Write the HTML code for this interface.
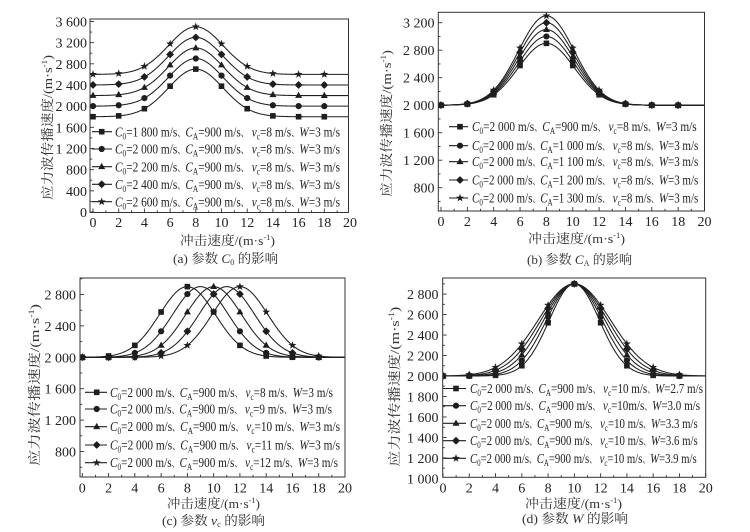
<!DOCTYPE html>
<html>
<head>
<meta charset="utf-8">
<style>
html,body{margin:0;padding:0;background:#fff;}
svg{display:block;}
.tk{font-family:"Liberation Serif","Noto Serif CJK SC",serif;font-size:14px;fill:#222;}
.lg{font-family:"Liberation Serif","Noto Serif CJK SC",serif;font-size:14px;fill:#222;}
.ti{font-family:"Liberation Serif","Noto Serif CJK SC",serif;font-size:13px;fill:#333;}
.dn{font-size:10px;}
</style>
</head>
<body>
<svg id="s" width="750" height="532" viewBox="0 0 750 532" xmlns="http://www.w3.org/2000/svg">
<rect width="750" height="532" fill="#fff"/>
<defs>
<clipPath id="ca"><rect x="90" y="19" width="258.5" height="193.5"/></clipPath>
<clipPath id="cb"><rect x="438.3" y="12.3" width="266.2" height="198.7"/></clipPath>
<clipPath id="cc"><rect x="80" y="278" width="265" height="199"/></clipPath>
<clipPath id="cd"><rect x="442.7" y="278" width="263" height="199.3"/></clipPath>
</defs>
<g id="gfx"></g>

<!-- Panel (a) tick labels -->
<g class="tk" text-anchor="end">
<text x="87" y="217">0</text><text x="87" y="195.8">400</text><text x="87" y="174.7">800</text>
<text x="87" y="153.5">1 200</text><text x="87" y="132.3">1 600</text><text x="87" y="111.2">2 000</text>
<text x="87" y="90">2 400</text><text x="87" y="68.8">2 800</text><text x="87" y="47.6">3 200</text><text x="87" y="26.5">3 600</text>
</g>
<g class="tk" text-anchor="middle">
<text x="93" y="227">0</text><text x="118.7" y="227">2</text><text x="144.4" y="227">4</text><text x="170.1" y="227">6</text>
<text x="195.8" y="227">8</text><text x="221.5" y="227">10</text><text x="247.2" y="227">12</text><text x="272.9" y="227">14</text>
<text x="298.6" y="227">16</text><text x="324.3" y="227">18</text><text x="350" y="227">20</text>
</g>
<!-- Panel (b) tick labels -->
<g class="tk" text-anchor="end">
<text x="434.5" y="192.7">800</text><text x="434.5" y="165.2">1 200</text><text x="434.5" y="137.7">1 600</text>
<text x="434.5" y="110.2">2 000</text><text x="434.5" y="82.7">2 400</text><text x="434.5" y="55.2">2 800</text><text x="434.5" y="27.7">3 200</text>
</g>
<g class="tk" text-anchor="middle">
<text x="441" y="226">0</text><text x="467.4" y="226">2</text><text x="493.7" y="226">4</text><text x="520.1" y="226">6</text>
<text x="546.4" y="226">8</text><text x="572.8" y="226">10</text><text x="599.1" y="226">12</text><text x="625.5" y="226">14</text>
<text x="651.8" y="226">16</text><text x="678.2" y="226">18</text><text x="704.5" y="226">20</text>
</g>
<!-- Panel (c) tick labels -->
<g class="tk" text-anchor="end">
<text x="76" y="456.5">800</text><text x="76" y="425.1">1 200</text><text x="76" y="393.7">1 600</text>
<text x="76" y="362.3">2 000</text><text x="76" y="330.9">2 400</text><text x="76" y="299.5">2 800</text>
</g>
<g class="tk" text-anchor="middle">
<text x="82.3" y="492.5">0</text><text x="108.6" y="492.5">2</text><text x="134.8" y="492.5">4</text><text x="161.1" y="492.5">6</text>
<text x="187.4" y="492.5">8</text><text x="213.7" y="492.5">10</text><text x="239.9" y="492.5">12</text><text x="266.2" y="492.5">14</text>
<text x="292.5" y="492.5">16</text><text x="318.7" y="492.5">18</text><text x="345" y="492.5">20</text>
</g>
<!-- Panel (d) tick labels -->
<g class="tk" text-anchor="end">
<text x="438.5" y="483.4">1 000</text><text x="438.5" y="462.9">1 200</text><text x="438.5" y="442.4">1 400</text>
<text x="438.5" y="422">1 600</text><text x="438.5" y="401.5">1 800</text><text x="438.5" y="381">2 000</text>
<text x="438.5" y="360.5">2 200</text><text x="438.5" y="340">2 400</text><text x="438.5" y="319.6">2 600</text><text x="438.5" y="299.1">2 800</text>
</g>
<g class="tk" text-anchor="middle">
<text x="443" y="492.5">0</text><text x="469.3" y="492.5">2</text><text x="495.5" y="492.5">4</text><text x="521.8" y="492.5">6</text>
<text x="548.1" y="492.5">8</text><text x="574.4" y="492.5">10</text><text x="600.6" y="492.5">12</text><text x="626.9" y="492.5">14</text>
<text x="653.2" y="492.5">16</text><text x="679.4" y="492.5">18</text><text x="705.7" y="492.5">20</text>
</g>

<!-- Axis titles -->
<g class="ti">
<text transform="translate(52,127.5) rotate(-90)" text-anchor="middle" textLength="145" lengthAdjust="spacingAndGlyphs">应力波传播速度/(m·s<tspan font-size="8" dy="-5">-1</tspan><tspan dy="5">)</tspan></text>
<text transform="translate(391,123.5) rotate(-90)" text-anchor="middle" textLength="147" lengthAdjust="spacingAndGlyphs">应力波传播速度/(m·s<tspan font-size="8" dy="-5">-1</tspan><tspan dy="5">)</tspan></text>
<text transform="translate(39,385) rotate(-90)" text-anchor="middle" textLength="162" lengthAdjust="spacingAndGlyphs">应力波传播速度/(m·s<tspan font-size="8" dy="-5">-1</tspan><tspan dy="5">)</tspan></text>
<text transform="translate(399,386.7) rotate(-90)" text-anchor="middle" textLength="160" lengthAdjust="spacingAndGlyphs">应力波传播速度/(m·s<tspan font-size="8" dy="-5">-1</tspan><tspan dy="5">)</tspan></text>

<text x="227.5" y="245" text-anchor="middle" textLength="95" lengthAdjust="spacingAndGlyphs">冲击速度/(m·s<tspan font-size="8" dy="-5">-1</tspan><tspan dy="5">)</tspan></text>
<text x="576.5" y="243" text-anchor="middle" textLength="97" lengthAdjust="spacingAndGlyphs">冲击速度/(m·s<tspan font-size="8" dy="-5">-1</tspan><tspan dy="5">)</tspan></text>
<text x="213.5" y="508" text-anchor="middle" textLength="93" lengthAdjust="spacingAndGlyphs">冲击速度/(m·s<tspan font-size="8" dy="-5">-1</tspan><tspan dy="5">)</tspan></text>
<text x="573.5" y="508" text-anchor="middle" textLength="97" lengthAdjust="spacingAndGlyphs">冲击速度/(m·s<tspan font-size="8" dy="-5">-1</tspan><tspan dy="5">)</tspan></text>

<text x="225.5" y="263" text-anchor="middle" textLength="105" lengthAdjust="spacingAndGlyphs">(a) 参数 <tspan font-style="italic">C</tspan><tspan font-size="8" dy="2">0</tspan><tspan dy="-2"> 的影响</tspan></text>
<text x="579.5" y="264" text-anchor="middle" textLength="105" lengthAdjust="spacingAndGlyphs">(b) 参数 <tspan font-style="italic">C</tspan><tspan font-size="8" dy="2">A</tspan><tspan dy="-2"> 的影响</tspan></text>
<text x="213.5" y="525" text-anchor="middle" textLength="103" lengthAdjust="spacingAndGlyphs">(c) 参数 <tspan font-style="italic">v</tspan><tspan font-size="8" dy="2">c</tspan><tspan dy="-2"> 的影响</tspan></text>
<text x="575" y="523" text-anchor="middle" textLength="106" lengthAdjust="spacingAndGlyphs">(d) 参数 <tspan font-style="italic">W</tspan> 的影响</text>
</g>

<!-- Legends (a) -->
<g class="lg">
<text x="115" y="136.3" textLength="225" lengthAdjust="spacingAndGlyphs"><tspan font-style="italic">C</tspan><tspan font-size="9" dy="3">0</tspan><tspan dy="-3">=1 800 m/s<tspan class="dn">、</tspan></tspan><tspan font-style="italic">C</tspan><tspan font-size="9" dy="3">A</tspan><tspan dy="-3">=900 m/s<tspan class="dn">、</tspan> </tspan><tspan font-style="italic">v</tspan><tspan font-size="9" dy="3">c</tspan><tspan dy="-3">=8 m/s<tspan class="dn">、</tspan></tspan><tspan font-style="italic">W</tspan>=3 m/s</text>
<text x="115" y="153.6" textLength="225" lengthAdjust="spacingAndGlyphs"><tspan font-style="italic">C</tspan><tspan font-size="9" dy="3">0</tspan><tspan dy="-3">=2 000 m/s<tspan class="dn">、</tspan></tspan><tspan font-style="italic">C</tspan><tspan font-size="9" dy="3">A</tspan><tspan dy="-3">=900 m/s<tspan class="dn">、</tspan> </tspan><tspan font-style="italic">v</tspan><tspan font-size="9" dy="3">c</tspan><tspan dy="-3">=8 m/s<tspan class="dn">、</tspan></tspan><tspan font-style="italic">W</tspan>=3 m/s</text>
<text x="115" y="171.3" textLength="225" lengthAdjust="spacingAndGlyphs"><tspan font-style="italic">C</tspan><tspan font-size="9" dy="3">0</tspan><tspan dy="-3">=2 200 m/s<tspan class="dn">、</tspan></tspan><tspan font-style="italic">C</tspan><tspan font-size="9" dy="3">A</tspan><tspan dy="-3">=900 m/s<tspan class="dn">、</tspan> </tspan><tspan font-style="italic">v</tspan><tspan font-size="9" dy="3">c</tspan><tspan dy="-3">=8 m/s<tspan class="dn">、</tspan></tspan><tspan font-style="italic">W</tspan>=3 m/s</text>
<text x="115" y="188.9" textLength="225" lengthAdjust="spacingAndGlyphs"><tspan font-style="italic">C</tspan><tspan font-size="9" dy="3">0</tspan><tspan dy="-3">=2 400 m/s<tspan class="dn">、</tspan></tspan><tspan font-style="italic">C</tspan><tspan font-size="9" dy="3">A</tspan><tspan dy="-3">=900 m/s<tspan class="dn">、</tspan> </tspan><tspan font-style="italic">v</tspan><tspan font-size="9" dy="3">c</tspan><tspan dy="-3">=8 m/s<tspan class="dn">、</tspan></tspan><tspan font-style="italic">W</tspan>=3 m/s</text>
<text x="115" y="206.3" textLength="225" lengthAdjust="spacingAndGlyphs"><tspan font-style="italic">C</tspan><tspan font-size="9" dy="3">0</tspan><tspan dy="-3">=2 600 m/s<tspan class="dn">、</tspan></tspan><tspan font-style="italic">C</tspan><tspan font-size="9" dy="3">A</tspan><tspan dy="-3">=900 m/s<tspan class="dn">、</tspan> </tspan><tspan font-style="italic">v</tspan><tspan font-size="9" dy="3">c</tspan><tspan dy="-3">=8 m/s<tspan class="dn">、</tspan></tspan><tspan font-style="italic">W</tspan>=3 m/s</text>
</g>
<!-- Legends (b) -->
<g class="lg">
<text x="472" y="131.2" textLength="224.7" lengthAdjust="spacingAndGlyphs"><tspan font-style="italic">C</tspan><tspan font-size="9" dy="3">0</tspan><tspan dy="-3">=2 000 m/s<tspan class="dn">、</tspan></tspan><tspan font-style="italic">C</tspan><tspan font-size="9" dy="3">A</tspan><tspan dy="-3">=900 m/s<tspan class="dn">、</tspan> </tspan><tspan font-style="italic">v</tspan><tspan font-size="9" dy="3">c</tspan><tspan dy="-3">=8 m/s<tspan class="dn">、</tspan></tspan><tspan font-style="italic">W</tspan>=3 m/s</text>
<text x="472" y="150.2" textLength="226.3" lengthAdjust="spacingAndGlyphs"><tspan font-style="italic">C</tspan><tspan font-size="9" dy="3">0</tspan><tspan dy="-3">=2 000 m/s<tspan class="dn">、</tspan></tspan><tspan font-style="italic">C</tspan><tspan font-size="9" dy="3">A</tspan><tspan dy="-3">=1 000 m/s<tspan class="dn">、</tspan> </tspan><tspan font-style="italic">v</tspan><tspan font-size="9" dy="3">c</tspan><tspan dy="-3">=8 m/s<tspan class="dn">、</tspan></tspan><tspan font-style="italic">W</tspan>=3 m/s</text>
<text x="472" y="166.2" textLength="226.3" lengthAdjust="spacingAndGlyphs"><tspan font-style="italic">C</tspan><tspan font-size="9" dy="3">0</tspan><tspan dy="-3">=2 000 m/s<tspan class="dn">、</tspan></tspan><tspan font-style="italic">C</tspan><tspan font-size="9" dy="3">A</tspan><tspan dy="-3">=1 100 m/s<tspan class="dn">、</tspan> </tspan><tspan font-style="italic">v</tspan><tspan font-size="9" dy="3">c</tspan><tspan dy="-3">=8 m/s<tspan class="dn">、</tspan></tspan><tspan font-style="italic">W</tspan>=3 m/s</text>
<text x="472" y="184.5" textLength="226.3" lengthAdjust="spacingAndGlyphs"><tspan font-style="italic">C</tspan><tspan font-size="9" dy="3">0</tspan><tspan dy="-3">=2 000 m/s<tspan class="dn">、</tspan></tspan><tspan font-style="italic">C</tspan><tspan font-size="9" dy="3">A</tspan><tspan dy="-3">=1 200 m/s<tspan class="dn">、</tspan> </tspan><tspan font-style="italic">v</tspan><tspan font-size="9" dy="3">c</tspan><tspan dy="-3">=8 m/s<tspan class="dn">、</tspan></tspan><tspan font-style="italic">W</tspan>=3 m/s</text>
<text x="472" y="202.5" textLength="226.3" lengthAdjust="spacingAndGlyphs"><tspan font-style="italic">C</tspan><tspan font-size="9" dy="3">0</tspan><tspan dy="-3">=2 000 m/s<tspan class="dn">、</tspan></tspan><tspan font-style="italic">C</tspan><tspan font-size="9" dy="3">A</tspan><tspan dy="-3">=1 300 m/s<tspan class="dn">、</tspan> </tspan><tspan font-style="italic">v</tspan><tspan font-size="9" dy="3">c</tspan><tspan dy="-3">=8 m/s<tspan class="dn">、</tspan></tspan><tspan font-style="italic">W</tspan>=3 m/s</text>
</g>
<!-- Legends (c) -->
<g class="lg">
<text x="110" y="396.8" textLength="223" lengthAdjust="spacingAndGlyphs"><tspan font-style="italic">C</tspan><tspan font-size="9" dy="3">0</tspan><tspan dy="-3">=2 000 m/s<tspan class="dn">、</tspan></tspan><tspan font-style="italic">C</tspan><tspan font-size="9" dy="3">A</tspan><tspan dy="-3">=900 m/s<tspan class="dn">、</tspan> </tspan><tspan font-style="italic">v</tspan><tspan font-size="9" dy="3">c</tspan><tspan dy="-3">=8 m/s<tspan class="dn">、</tspan></tspan><tspan font-style="italic">W</tspan>=3 m/s</text>
<text x="110" y="413.5" textLength="222" lengthAdjust="spacingAndGlyphs"><tspan font-style="italic">C</tspan><tspan font-size="9" dy="3">0</tspan><tspan dy="-3">=2 000 m/s<tspan class="dn">、</tspan></tspan><tspan font-style="italic">C</tspan><tspan font-size="9" dy="3">A</tspan><tspan dy="-3">=900 m/s<tspan class="dn">、</tspan> </tspan><tspan font-style="italic">v</tspan><tspan font-size="9" dy="3">c</tspan><tspan dy="-3">=9 m/s<tspan class="dn">、</tspan></tspan><tspan font-style="italic">W</tspan>=3 m/s</text>
<text x="110" y="431.2" textLength="230" lengthAdjust="spacingAndGlyphs"><tspan font-style="italic">C</tspan><tspan font-size="9" dy="3">0</tspan><tspan dy="-3">=2 000 m/s<tspan class="dn">、</tspan></tspan><tspan font-style="italic">C</tspan><tspan font-size="9" dy="3">A</tspan><tspan dy="-3">=900 m/s<tspan class="dn">、</tspan> </tspan><tspan font-style="italic">v</tspan><tspan font-size="9" dy="3">c</tspan><tspan dy="-3">=10 m/s<tspan class="dn">、</tspan></tspan><tspan font-style="italic">W</tspan>=3 m/s</text>
<text x="110" y="449.5" textLength="230" lengthAdjust="spacingAndGlyphs"><tspan font-style="italic">C</tspan><tspan font-size="9" dy="3">0</tspan><tspan dy="-3">=2 000 m/s<tspan class="dn">、</tspan></tspan><tspan font-style="italic">C</tspan><tspan font-size="9" dy="3">A</tspan><tspan dy="-3">=900 m/s<tspan class="dn">、</tspan> </tspan><tspan font-style="italic">v</tspan><tspan font-size="9" dy="3">c</tspan><tspan dy="-3">=11 m/s<tspan class="dn">、</tspan></tspan><tspan font-style="italic">W</tspan>=3 m/s</text>
<text x="110" y="467.2" textLength="228" lengthAdjust="spacingAndGlyphs"><tspan font-style="italic">C</tspan><tspan font-size="9" dy="3">0</tspan><tspan dy="-3">=2 000 m/s<tspan class="dn">、</tspan></tspan><tspan font-style="italic">C</tspan><tspan font-size="9" dy="3">A</tspan><tspan dy="-3">=900 m/s<tspan class="dn">、</tspan> </tspan><tspan font-style="italic">v</tspan><tspan font-size="9" dy="3">c</tspan><tspan dy="-3">=12 m/s<tspan class="dn">、</tspan></tspan><tspan font-style="italic">W</tspan>=3 m/s</text>
</g>
<!-- Legends (d) -->
<g class="lg">
<text x="470" y="393" textLength="233" lengthAdjust="spacingAndGlyphs"><tspan font-style="italic">C</tspan><tspan font-size="9" dy="3">0</tspan><tspan dy="-3">=2 000 m/s<tspan class="dn">、</tspan></tspan><tspan font-style="italic">C</tspan><tspan font-size="9" dy="3">A</tspan><tspan dy="-3">=900 m/s<tspan class="dn">、</tspan> </tspan><tspan font-style="italic">v</tspan><tspan font-size="9" dy="3">c</tspan><tspan dy="-3">=10 m/s<tspan class="dn">、</tspan></tspan><tspan font-style="italic">W</tspan>=2.7 m/s</text>
<text x="470" y="410.2" textLength="230" lengthAdjust="spacingAndGlyphs"><tspan font-style="italic">C</tspan><tspan font-size="9" dy="3">0</tspan><tspan dy="-3">=2 000 m/s<tspan class="dn">、</tspan></tspan><tspan font-style="italic">C</tspan><tspan font-size="9" dy="3">A</tspan><tspan dy="-3">=900 m/s<tspan class="dn">、</tspan> </tspan><tspan font-style="italic">v</tspan><tspan font-size="9" dy="3">c</tspan><tspan dy="-3">=10m/s<tspan class="dn">、</tspan></tspan><tspan font-style="italic">W</tspan>=3.0 m/s</text>
<text x="470" y="427.8" textLength="227.7" lengthAdjust="spacingAndGlyphs"><tspan font-style="italic">C</tspan><tspan font-size="9" dy="3">0</tspan><tspan dy="-3">=2 000 m/s<tspan class="dn">、</tspan></tspan><tspan font-style="italic">C</tspan><tspan font-size="9" dy="3">A</tspan><tspan dy="-3">=900 m/s<tspan class="dn">、</tspan> </tspan><tspan font-style="italic">v</tspan><tspan font-size="9" dy="3">c</tspan><tspan dy="-3">=10 m/s<tspan class="dn">、</tspan></tspan><tspan font-style="italic">W</tspan>=3.3 m/s</text>
<text x="470" y="445.2" textLength="227.7" lengthAdjust="spacingAndGlyphs"><tspan font-style="italic">C</tspan><tspan font-size="9" dy="3">0</tspan><tspan dy="-3">=2 000 m/s<tspan class="dn">、</tspan></tspan><tspan font-style="italic">C</tspan><tspan font-size="9" dy="3">A</tspan><tspan dy="-3">=900 m/s<tspan class="dn">、</tspan> </tspan><tspan font-style="italic">v</tspan><tspan font-size="9" dy="3">c</tspan><tspan dy="-3">=10 m/s<tspan class="dn">、</tspan></tspan><tspan font-style="italic">W</tspan>=3.6 m/s</text>
<text x="470" y="462.8" textLength="226.7" lengthAdjust="spacingAndGlyphs"><tspan font-style="italic">C</tspan><tspan font-size="9" dy="3">0</tspan><tspan dy="-3">=2 000 m/s<tspan class="dn">、</tspan></tspan><tspan font-style="italic">C</tspan><tspan font-size="9" dy="3">A</tspan><tspan dy="-3">=900 m/s<tspan class="dn">、</tspan> </tspan><tspan font-style="italic">v</tspan><tspan font-size="9" dy="3">c</tspan><tspan dy="-3">=10 m/s<tspan class="dn">、</tspan></tspan><tspan font-style="italic">W</tspan>=3.9 m/s</text>
</g>
</svg>
<script>
(function(){
var NS='http://www.w3.org/2000/svg';
var root=document.getElementById('gfx');
function el(t,a,p){var e=document.createElementNS(NS,t);for(var k in a)e.setAttribute(k,a[k]);(p||root).appendChild(e);return e;}
var COL='#1e1e1e';
function marker(g,type,x,y){
  if(type===0){el('rect',{x:x-2.8,y:y-2.8,width:5.6,height:5.6,fill:COL},g);}
  else if(type===1){el('circle',{cx:x,cy:y,r:3.1,fill:COL},g);}
  else if(type===2){el('polygon',{points:(x)+','+(y-3.8)+' '+(x+3.5)+','+(y+2.4)+' '+(x-3.5)+','+(y+2.4),fill:COL},g);}
  else if(type===3){el('circle',{cx:x,cy:y,r:2.8,fill:COL},g);el('polygon',{points:x+','+(y-3.9)+' '+(x+3.9)+','+y+' '+x+','+(y+3.9)+' '+(x-3.9)+','+y,fill:COL},g);}
  else {var pts=[];for(var i=0;i<10;i++){var r=(i%2===0)?4.2:1.7;var a=-Math.PI/2+i*Math.PI/5;pts.push((x+r*Math.cos(a)).toFixed(2)+','+(y+r*Math.sin(a)).toFixed(2));}el('polygon',{points:pts.join(' '),fill:COL},g);}
}
var panels=[
 {fx:function(v){return 93+12.85*v;},fy:function(c){return 212-c/400*21.17;},box:[90,19,348.5,212.5],clip:'ca',v0:-0.25,
  ser:[[1800,900,8,3],[2000,900,8,3],[2200,900,8,3],[2400,900,8,3],[2600,900,8,3]],ymaj:400,ymin:200,yr:[0,3600],
  leg:{x1:92,x2:112,mx:101.7,ys:[131.7,149,166.7,184.3,201.7]}},
 {fx:function(v){return 441+13.175*v;},fy:function(c){return 105.2-(c-2000)/400*27.5;},box:[438.3,12.3,704.5,211],clip:'cb',v0:-0.21,
  ser:[[2000,900,8,3],[2000,1000,8,3],[2000,1100,8,3],[2000,1200,8,3],[2000,1300,8,3]],ymaj:400,ymin:200,yr:[400,3400],
  leg:{x1:449,x2:468,mx:460,ys:[126.7,145.7,161.7,180,198]}},
 {fx:function(v){return 82.3+13.135*v;},fy:function(c){return 357.3-(c-2000)/400*31.4;},box:[80,278,345,477],clip:'cc',v0:-0.18,
  ser:[[2000,900,8,3],[2000,900,9,3],[2000,900,10,3],[2000,900,11,3],[2000,900,12,3]],ymaj:400,ymin:200,yr:[400,3000],
  leg:{x1:85,x2:107,mx:96.7,ys:[392.3,409,426.7,445,462.7]}},
 {fx:function(v){return 443+13.135*v;},fy:function(c){return 376-(c-2000)/200*20.48;},box:[442.7,278,705.7,477.3],clip:'cd',v0:-0.02,
  ser:[[2000,900,10,2.7],[2000,900,10,3.0],[2000,900,10,3.3],[2000,900,10,3.6],[2000,900,10,3.9]],ymaj:200,ymin:100,yr:[1000,2900],
  leg:{x1:443,x2:466,mx:456,ys:[388.5,405.7,423.3,440.7,458.3]}}
];
panels.forEach(function(P){
  var b=P.box;
  var g=el('g',{});
  var tg=el('g',{stroke:'#333','stroke-width':'0.9'},g);
  for(var c=P.yr[0];c<=P.yr[1]+1e-6;c+=P.ymin){
    var y=P.fy(c); if(y<b[1]-0.5||y>b[3]+0.5)continue;
    var L=(Math.abs(c%P.ymaj)<1e-6)?4:2.2;
    el('line',{x1:b[0],y1:y.toFixed(2),x2:(b[0]+L),y2:y.toFixed(2)},tg);
  }
  for(var v=0;v<=20;v++){
    var x=P.fx(v); if(x>b[2]+0.5)x=b[2];
    var L2=(v%2===0)?4:2.2;
    el('line',{x1:x.toFixed(2),y1:b[3],x2:x.toFixed(2),y2:(b[3]-L2)},tg);
  }
  var cg=el('g',{'clip-path':'url(#'+P.clip+')'},g);
  P.ser.forEach(function(s,i){
    var d='';
    for(var v=P.v0;v<=20.001;v+=0.05){
      var cc=s[0]+s[1]*Math.exp(-Math.pow((v-s[2])/s[3],2));
      d+=(d?'L':'M')+P.fx(v).toFixed(2)+','+P.fy(cc).toFixed(2);
    }
    el('path',{d:d,fill:'none',stroke:COL,'stroke-width':'1.05'},cg);
  });
  P.ser.forEach(function(s,i){
    for(var v=0;v<=18;v+=2){
      var cc=s[0]+s[1]*Math.exp(-Math.pow((v-s[2])/s[3],2));
      marker(cg,i,P.fx(v),P.fy(cc));
    }
  });
  P.leg.ys.forEach(function(y,i){
    el('line',{x1:P.leg.x1,y1:y,x2:P.leg.x2,y2:y,stroke:COL,'stroke-width':'1.05'},g);
    marker(g,i,P.leg.mx,y);
  });
  el('rect',{x:b[0],y:b[1],width:(b[2]-b[0]),height:(b[3]-b[1]),fill:'none',stroke:'#333','stroke-width':'1'},g);
});
})();
</script>
</body>
</html>
